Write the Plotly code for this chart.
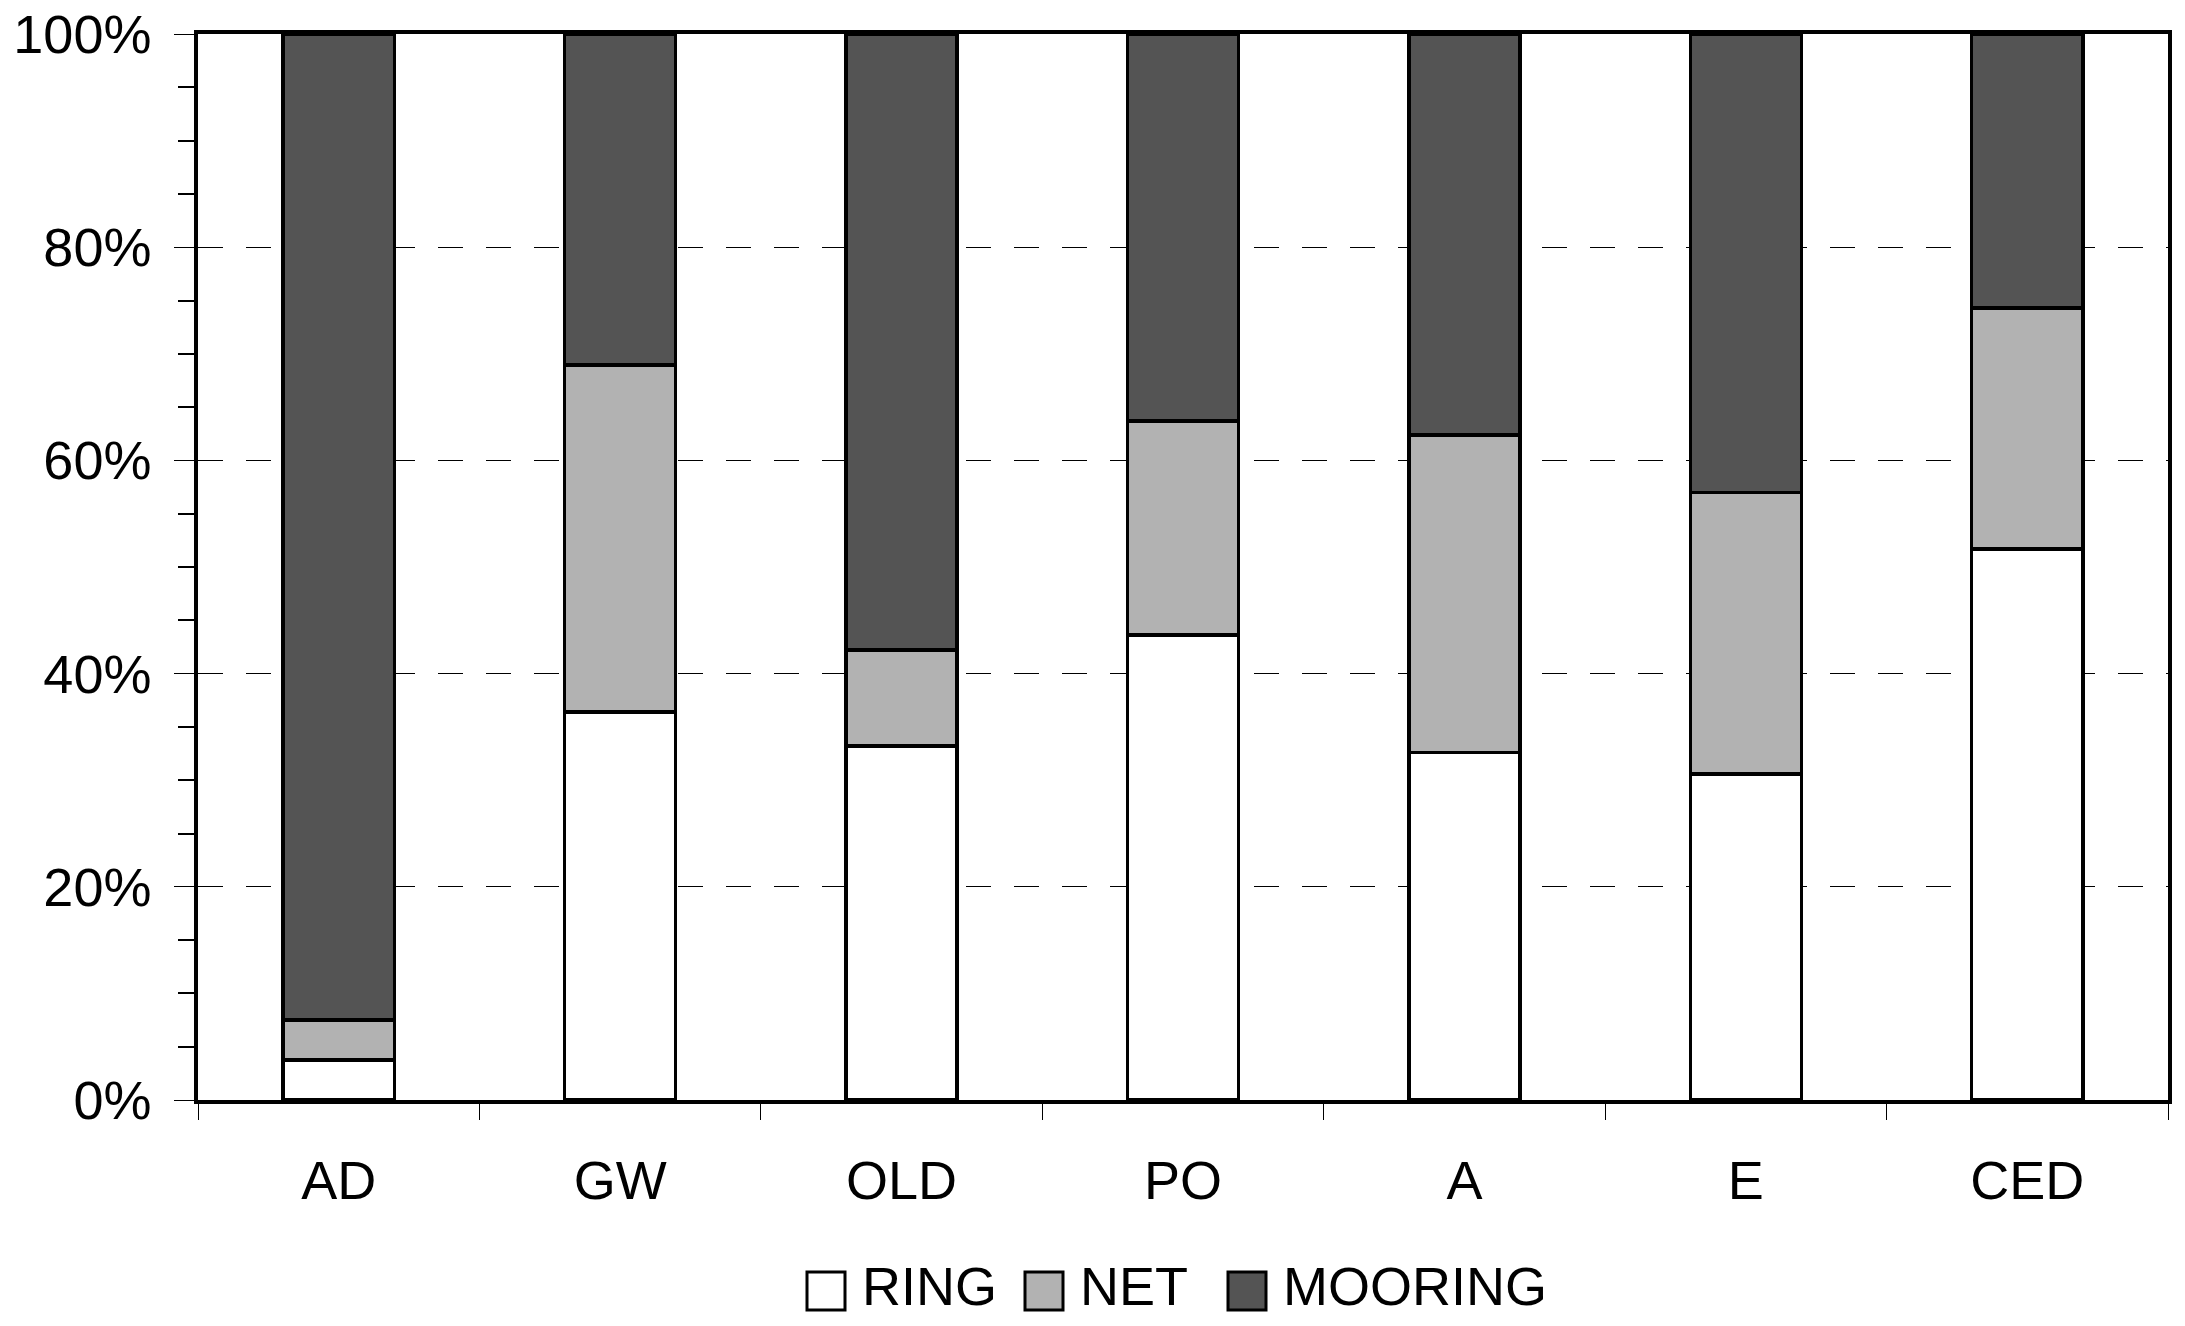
import plotly.graph_objects as go

categories = ["AD", "GW", "OLD", "PO", "A", "E", "CED"]
ring = [3.75, 36.4, 33.2, 43.6, 32.6, 30.6, 51.7]
net = [3.75, 32.55, 9.0, 20.1, 29.8, 26.4, 22.6]
mooring = [round(100 - r - n, 2) for r, n in zip(ring, net)]

series_names = ["RING", "NET", "MOORING"]
series_colors = ["#ffffff", "#b2b2b2", "#545454"]
series_values = [ring, net, mooring]

W, H = 2185, 1326
PLOT_L, PLOT_R, PLOT_T, PLOT_B = 198, 2168, 34, 1100   # page pixel positions
L, T = PLOT_L, PLOT_T
R, B = W - PLOT_R, H - PLOT_B
FONT = "Liberation Sans, Arial, sans-serif"
FS = 54

fig = go.Figure()
for name, color, vals in zip(series_names, series_colors, series_values):
    fig.add_trace(go.Bar(
        x=categories, y=vals, name=name, showlegend=False,
        marker=dict(color=color, line=dict(color="black", width=3.5)),
    ))

fig.update_layout(
    width=W, height=H, barmode="stack", bargap=0.605,
    margin=dict(l=L, r=R, t=T, b=B, pad=0),
    plot_bgcolor="white", paper_bgcolor="white",
    font=dict(family=FONT, size=FS, color="black"),
)
fig.update_xaxes(
    automargin=False,
    showline=True, linecolor="black", linewidth=3.5, mirror=True,
    ticks="outside", tickson="boundaries", ticklen=16, tickwidth=1, tickcolor="black",
    showgrid=False, ticklabelstandoff=30,
    tickfont=dict(family=FONT, size=FS, color="black"),
)
fig.update_yaxes(
    automargin=False, ticklabeloverflow="allow",
    range=[0, 100], dtick=20, ticksuffix="%",
    showline=True, linecolor="black", linewidth=3.5, mirror=True,
    ticks="outside", ticklen=20, tickwidth=1, tickcolor="black",
    showgrid=True, gridcolor="black", gridwidth=1.2, griddash="25px,23px",
    zeroline=False, ticklabelstandoff=12,
    minor=dict(dtick=5, ticks="outside", ticklen=16, tickwidth=2, tickcolor="black", showgrid=False),
    tickfont=dict(family=FONT, size=FS, color="black"),
)

# manual legend (large square swatches like the original)
pw, ph = PLOT_R - PLOT_L, PLOT_B - PLOT_T
def px_to_paper_x(px):
    return (px - PLOT_L) / pw
def px_to_paper_y(py):
    return (PLOT_B - py) / ph

legend_item_x = [807, 1025, 1228]
legend_cy = 1291
sw = 38
gap = 15
for name, color, x0 in zip(series_names, series_colors, legend_item_x):
    fig.add_shape(
        type="rect", xref="paper", yref="paper",
        x0=px_to_paper_x(x0), x1=px_to_paper_x(x0 + sw),
        y0=px_to_paper_y(legend_cy + sw / 2), y1=px_to_paper_y(legend_cy - sw / 2),
        fillcolor=color, line=dict(color="black", width=3),
    )
    fig.add_annotation(
        text=name, xref="paper", yref="paper",
        x=px_to_paper_x(x0 + sw + gap), y=px_to_paper_y(legend_cy - 5),
        xanchor="left", yanchor="middle", showarrow=False,
        font=dict(family=FONT, size=FS, color="black"),
    )

fig.write_html(
    "out.html",
    config={"displayModeBar": False},
    post_script="document.body.style.margin='0';document.body.style.overflow='hidden';",
)
